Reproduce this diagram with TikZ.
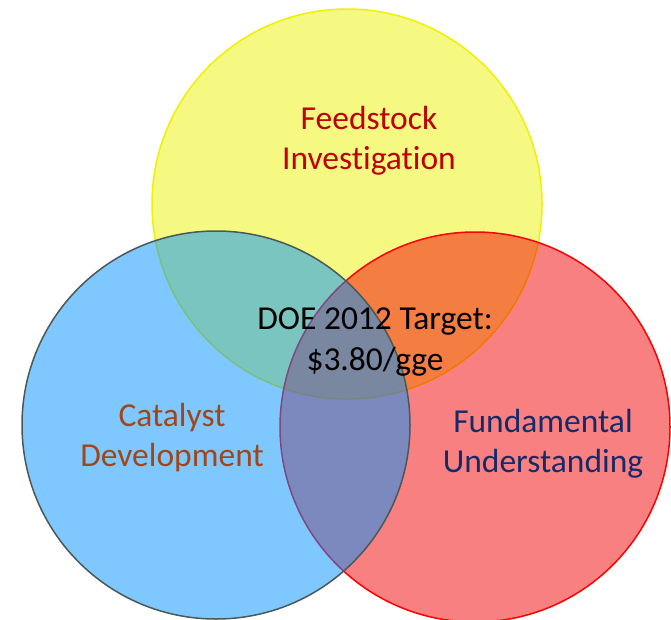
\documentclass[tikz,border=0pt]{standalone}
\usepackage{fontspec}
\setmainfont{Carlito}[Ligatures=NoCommon]
\definecolor{yfill}{RGB}{236,244,5}
\definecolor{ystroke}{RGB}{240,240,0}
\definecolor{bfill}{RGB}{0,146,255}
\definecolor{bstroke}{RGB}{74,88,88}
\definecolor{rfill}{RGB}{244,2,2}
\definecolor{rstroke}{RGB}{255,0,0}
\definecolor{tred}{RGB}{192,0,0}
\definecolor{tbrown}{RGB}{160,70,26}
\definecolor{tnavy}{RGB}{23,42,104}
\tikzset{
  venn/.style={circle, inner sep=0pt, line width=1.5pt, fill opacity=0.5, draw opacity=1},
  lbl/.style={align=center, font=\fontsize{33.5}{40}\selectfont, inner sep=0pt}
}
\begin{document}
\begin{tikzpicture}[x=1pt,y=1pt]
\useasboundingbox (0,0) rectangle (671,-619);
\node[venn, minimum size=390pt, fill=yfill, draw=ystroke] (yc) at (347,-204) {};
\node[venn, minimum size=390pt, fill=rfill, draw=rstroke] (rc) at (475,-427) {};
\node[venn, minimum size=388pt, fill=bfill, draw=bstroke] (bc) at (216,-425) {};
\node[lbl, text=tred] (feed) at (369,-141) {Feedstock\\Investigation};
\node[lbl, text=black] (doe) at (375,-342) {DOE 2012 Target:\\\$3.80/gge};
\node[lbl, text=tbrown] (cat) at (172,-438) {Catalyst\\Development};
\node[lbl, text=tnavy] (fund) at (543,-444) {Fundamental\\Understanding};
\end{tikzpicture}
\end{document}
